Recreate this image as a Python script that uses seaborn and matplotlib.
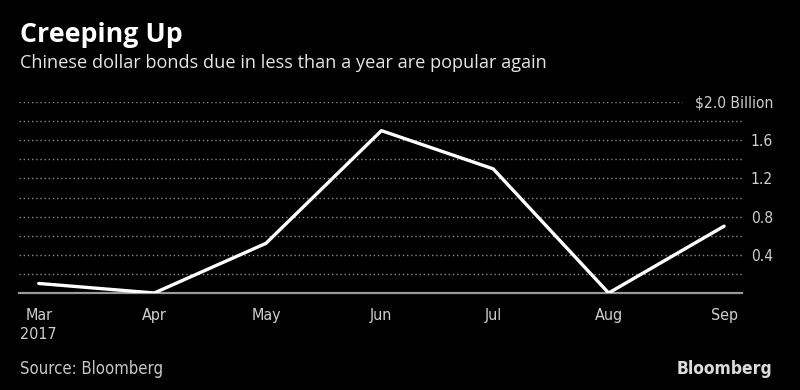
import numpy as np
import pandas as pd
import matplotlib
matplotlib.use("Agg")
import matplotlib.pyplot as plt
import seaborn as sns

# data
months = ["2017-03-01", "2017-04-01", "2017-05-01", "2017-06-01",
          "2017-07-01", "2017-08-01", "2017-09-01"]
issuance = [0.10, 0.0, 0.52, 1.70, 1.30, 0.0, 0.70]
tick_labels = ["Mar\n2017", "Apr", "May", "Jun", "Jul", "Aug", "Sep"]
y_ticks = [0.4, 0.8, 1.2, 1.6, 2.0]
y_labels = ["0.4", "0.8", "1.2", "1.6", "$2.0 Billion"]
grid_levels = [0.2, 0.4, 0.6, 0.8, 1.0, 1.2, 1.4, 1.6, 1.8, 2.0]

df = pd.DataFrame({"month": pd.to_datetime(months), "value": issuance})

sns.set_style("dark", {"axes.facecolor": "black", "figure.facecolor": "black"})
plt.rcParams["font.family"] = ["Open Sans", "DejaVu Sans"]

fig = plt.figure(figsize=(8, 3.9), dpi=100)
ax = fig.add_axes([19 / 800, 1 - 293 / 390, 723 / 800, 191 / 390])
ax.set_facecolor("black")

# dotted grid, the top one stops short of the unit label
for lvl in grid_levels:
    ax.axhline(lvl, xmin=0, xmax=0.917 if lvl == 2.0 else 1.0,
               color="#8a8a8a", lw=1, ls=(0, (1, 2)), zorder=1)

sns.lineplot(data=df, x="month", y="value", color="white", lw=2.4, ax=ax, zorder=3)

ax.set_ylim(0, 2.0)
ax.set_xlim(df["month"].iloc[0] - pd.Timedelta(days=5.3),
            df["month"].iloc[-1] + pd.Timedelta(days=4.8))
ax.set_xlabel("")
ax.set_ylabel("")

for side in ["top", "left", "right"]:
    ax.spines[side].set_visible(False)
ax.spines["bottom"].set_color("#9a9a9a")
ax.spines["bottom"].set_linewidth(1.6)

narrow = ["DejaVu Sans"]
ax.set_xticks(df["month"])
ax.set_xticklabels(tick_labels, family=narrow, fontstretch="condensed", fontsize=11.5,
                   color="#cfcfcf", linespacing=1.35)
ax.tick_params(axis="x", direction="out", length=5, width=1, color="#9a9a9a", pad=6)

ax.yaxis.tick_right()
ax.set_yticks(y_ticks)
ax.set_yticklabels(y_labels, family=narrow, fontstretch="condensed", fontsize=11.2,
                   color="#cfcfcf", ha="right")
ax.tick_params(axis="y", length=0, pad=22.3)

fig.text(20 / 800, 1 - 42 / 390, "Creeping Up", fontsize=19.3, fontweight="bold",
         color="white", va="baseline")
fig.text(20 / 800, 1 - 68 / 390, "Chinese dollar bonds due in less than a year are popular again",
         fontsize=13.1, color="#e6e6e6", va="baseline")
fig.text(20 / 800, 1 - 374 / 390, "Source: Bloomberg", family=narrow, fontstretch="condensed",
         fontsize=12, color="#c8c8c8", va="baseline")
fig.text(772 / 800, 1 - 374 / 390, "Bloomberg", family=narrow, fontstretch="condensed",
         fontsize=12.5, fontweight="bold", color="#dcdcdc", va="baseline", ha="right")

fig.savefig("out.png", dpi=100, facecolor="black")
